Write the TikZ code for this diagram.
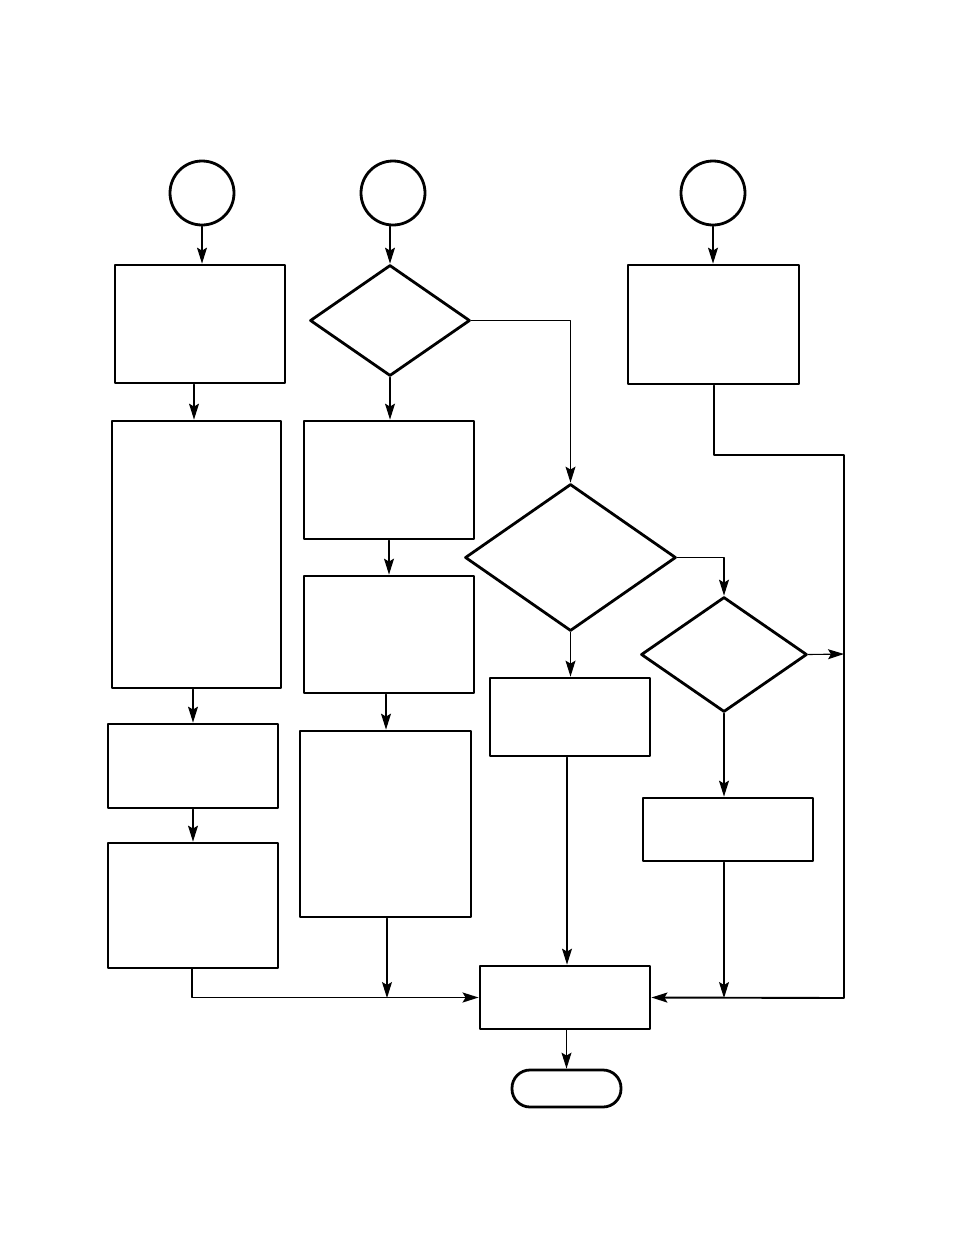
\documentclass[tikz,border=0pt]{standalone}
\usepackage{tikz}
\usetikzlibrary{arrows.meta,shapes.geometric}
\tikzset{
  every picture/.style={
    line join=round,
    line cap=round,
    >={Stealth[length=16pt,width=10pt,inset=3pt]},
  },
  % shapes of the chart
  startcirc/.style={circle, draw, line width=2.8pt, minimum size=64pt, inner sep=0pt},
  procbox/.style={rectangle, draw, line width=2.8pt, inner sep=0pt},
  decide/.style={diamond, draw, line width=2.8pt, inner sep=0pt},
  endcap/.style={rectangle, draw, rounded corners=18pt, line width=2.8pt, inner sep=0pt},
  flow/.style={line width=1.1pt},
  bus/.style={line width=1.9pt},
}

\begin{document}
\begin{tikzpicture}[x=1pt, y=-1pt]
    \useasboundingbox (0,0) rectangle (954,1235);

    % Entry points
    \node[startcirc] (s1) at (202,193) {};
    \node[startcirc] (s2) at (393,193) {};
    \node[startcirc] (s3) at (713,193) {};

    % Left column
    \node[procbox, minimum width=170pt, minimum height=118pt] (a1) at (200,324) {};
    \node[procbox, minimum width=169pt, minimum height=267pt] (a2) at (196.5,554.5) {};
    \node[procbox, minimum width=170pt, minimum height=84pt]  (a3) at (193,766) {};
    \node[procbox, minimum width=170pt, minimum height=125pt] (a4) at (193,905.5) {};

    % Middle column
    \node[decide, minimum width=160pt, minimum height=111pt] (d1) at (390,320.5) {};
    \node[procbox, minimum width=170pt, minimum height=118pt] (b1) at (389,480) {};
    \node[procbox, minimum width=170pt, minimum height=117pt] (b2) at (389,634.5) {};
    \node[procbox, minimum width=171pt, minimum height=186pt] (b3) at (385.5,824) {};

    % Decisions on the right
    \node[decide, minimum width=211pt, minimum height=147pt] (d2) at (570.5,557.5) {};
    \node[procbox, minimum width=160pt, minimum height=78pt]  (c1) at (570,717) {};
    \node[decide, minimum width=166pt, minimum height=115pt] (d3) at (724,654.5) {};
    \node[procbox, minimum width=170pt, minimum height=63pt]  (c2) at (728,829.5) {};
    \node[procbox, minimum width=171pt, minimum height=119pt] (c3) at (713.5,324.5) {};

    % Merge and end
    \node[procbox, minimum width=170pt, minimum height=63pt] (e1) at (565,997.5) {};
    \node[endcap, minimum width=109pt, minimum height=37pt] (t1) at (566.5,1088.5) {};

    % Junction points on the collecting lines
    \coordinate (jl) at (387,998);
    \coordinate (jr) at (724,998);
    \coordinate (jd) at (844,654);
    \coordinate (jm) at (567,0);

    % Left column flow
    \draw[flow, ->] (s1.south) -- (a1.north -| s1.south);
    \draw[flow, ->] (a1.south -| 194,0) -- (a2.north -| 194,0);
    \draw[flow, ->] (a2.south -| 193,0) -- (a3.north -| 193,0);
    \draw[flow, ->] (a3.south) -- (a4.north);
    \draw[bus, ->] (a4.south -| 192,0) |- (e1.west);

    % Middle column flow
    \draw[flow, ->] (d1.north |- s2.south) -- (d1.north);
    \draw[flow, ->] (d1.south) -- (b1.north -| d1.south);
    \draw[flow, ->] (b1.south -| 389,0) -- (b2.north -| 389,0);
    \draw[flow, ->] (b2.south -| 386,0) -- (b3.north -| 386,0);
    \draw[flow, ->] (b3.south -| jl) -- (jl);

    % Right side flow
    \draw[flow, ->] (d1.east) -| (d2.north);
    \draw[flow, ->] (d2.south) -- (c1.north -| d2.south);
    \draw[flow, ->] (c1.south -| jm) -- (e1.north -| jm);
    \draw[flow, ->] (d2.east) -| (d3.north);
    \draw[flow, ->] (d3.south) -- (c2.north -| d3.south);
    \draw[flow, ->] (c2.south -| jr) -- (jr);
    \draw[flow, ->] (d3.east) -- (jd);
    \draw[flow, ->] (s3.south) -- (c3.north -| s3.south);
    \draw[flow] (c3.south -| 714,0) -- (714,455) -- (844,455) -- (jd);
    \draw[bus, ->] (jd) -- (844,998) -- (e1.east);

    % Out
    \draw[flow, ->] (e1.south -| t1.north) -- (t1.north);
\end{tikzpicture}
\end{document}
